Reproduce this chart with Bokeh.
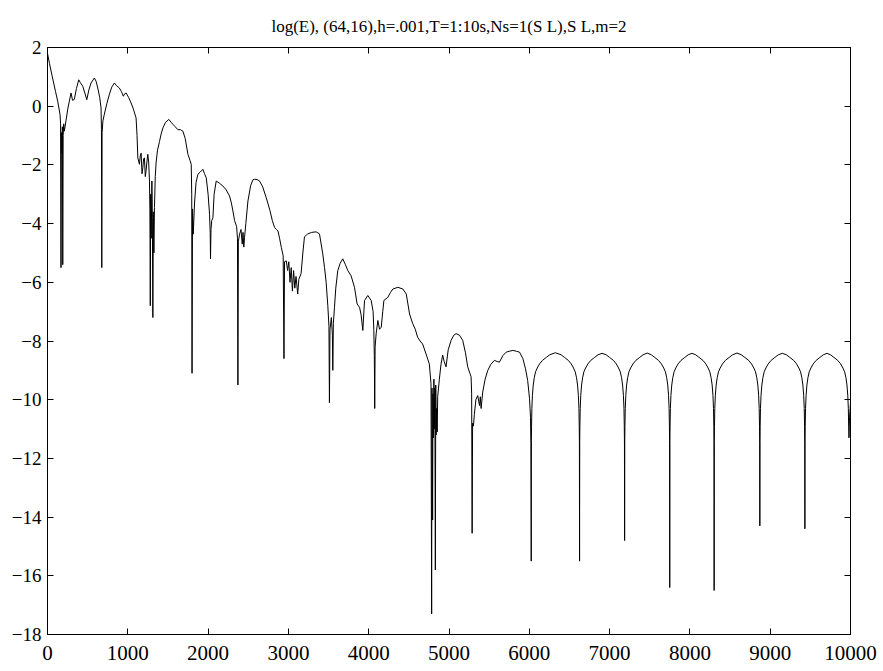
from bokeh.plotting import figure
from bokeh.models import Range1d, FixedTicker, LinearAxis, ColumnDataSource, CustomJSTickFormatter
from bokeh.embed import file_html
from bokeh.resources import INLINE

title_text = "log(E), (64,16),h=.001,T=1:10s,Ns=1(S L),S L,m=2"
x_ticks = [0, 1000, 2000, 3000, 4000, 5000, 6000, 7000, 8000, 9000, 10000]
y_ticks = [-18, -16, -14, -12, -10, -8, -6, -4, -2, 0, 2]

# (step, log(E))
seg_early = [(0, 1.8), (25, 1.45), (60, 1.0), (100, 0.5), (127, 0.17), (156, -0.28), (163, -0.6), (168, -5.5),
             (173, -0.9), (180, -1.6), (185, -0.7), (190, -5.4), (195, -1.0), (202, -0.6), (210, -0.85), (230, -0.5),
             (252, -0.1), (272, 0.17), (293, 0.45), (312, 0.2), (334, 0.23), (360, 0.6), (389, 0.9), (410, 0.8),
             (439, 0.68), (465, 0.45), (489, 0.22), (515, 0.55), (542, 0.79), (584, 0.96), (605, 0.85), (626, 0.62),
             (650, 0.3), (667, -0.06), (672, -0.8), (676, -5.5), (680, -0.9), (690, -0.5), (708, -0.27), (740, 0.1),
             (771, 0.41), (800, 0.65), (833, 0.79), (860, 0.7), (895, 0.62), (920, 0.5), (945, 0.34), (960, 0.42),
             (979, 0.45), (1010, 0.3), (1041, 0.11), (1070, -0.1), (1103, -0.4), (1115, -1.0), (1125, -1.76),
             (1145, -1.98), (1155, -1.7), (1166, -1.6), (1177, -2.3), (1187, -2.1), (1197, -1.8), (1207, -1.76),
             (1218, -2.4), (1228, -2.2), (1238, -1.9), (1249, -1.64), (1260, -1.9), (1270, -2.55), (1275, -3.5),
             (1280, -6.8), (1285, -3.0), (1292, -4.5), (1300, -2.55), (1306, -3.8), (1312, -7.2), (1318, -3.6),
             (1325, -5.0), (1332, -3.45), (1342, -2.4), (1353, -1.9), (1370, -1.5), (1395, -1.2), (1415, -0.95),
             (1437, -0.74), (1470, -0.55), (1511, -0.45)]

seg_second = [(1540, -0.55), (1562, -0.62), (1590, -0.7), (1624, -0.8), (1655, -0.8), (1686, -0.85), (1715, -1.1),
              (1749, -1.64), (1775, -1.85), (1790, -1.98), (1796, -3.0), (1800, -9.1), (1806, -3.5), (1815, -4.36),
              (1831, -3.3), (1850, -2.6), (1873, -2.32), (1900, -2.25), (1935, -2.15), (1955, -2.3), (1977, -2.44),
              (2000, -3.0), (2018, -3.68), (2026, -4.3), (2030, -5.2), (2036, -4.2), (2045, -3.9), (2060, -3.8),
              (2075, -3.0), (2101, -2.55), (2140, -2.62), (2184, -2.72), (2225, -2.85), (2267, -3.06), (2290, -3.3),
              (2309, -3.57), (2330, -3.9), (2355, -4.1), (2366, -4.5), (2371, -9.5), (2377, -4.6), (2392, -4.36),
              (2410, -4.2), (2425, -4.7), (2435, -4.3), (2445, -4.8), (2454, -4.47), (2470, -4.0), (2496, -3.23),
              (2530, -2.7), (2560, -2.5), (2579, -2.49), (2610, -2.5), (2641, -2.55), (2680, -2.75), (2724, -3.12),
              (2770, -3.55), (2800, -3.9), (2828, -4.13), (2850, -4.2), (2870, -4.25), (2890, -4.5), (2912, -4.81),
              (2935, -5.1), (2945, -8.6), (2952, -5.3), (2974, -5.27), (2990, -5.6)]

seg_third = [(3005, -5.3), (3020, -6.0), (3035, -5.5), (3050, -6.3), (3065, -5.6), (3080, -6.2), (3095, -5.8),
             (3116, -6.4), (3130, -5.9), (3158, -5.7), (3180, -5.0), (3200, -4.45), (3241, -4.35), (3290, -4.3),
             (3345, -4.28), (3387, -4.35), (3428, -5.03), (3450, -5.5), (3470, -6.0), (3491, -6.8), (3505, -7.5),
             (3511, -10.1), (3518, -7.6), (3535, -7.2), (3548, -7.8), (3553, -9.0), (3560, -7.4), (3574, -6.85),
             (3590, -6.2), (3615, -5.6), (3645, -5.35), (3677, -5.2), (3710, -5.4), (3740, -5.6), (3781, -5.78),
             (3823, -6.17), (3856, -6.74), (3886, -6.85), (3905, -7.1), (3927, -7.64), (3948, -6.62), (3989, -6.45),
             (4031, -6.62), (4055, -7.0), (4064, -7.64), (4070, -8.5), (4075, -10.3), (4080, -8.2), (4093, -7.75),
             (4114, -7.3), (4135, -7.6), (4156, -7.53), (4175, -7.0), (4189, -6.62), (4239, -6.51), (4270, -6.35),
             (4301, -6.23), (4363, -6.17), (4426, -6.23), (4468, -6.4), (4509, -7.08), (4547, -7.4), (4580, -7.6),
             (4609, -7.87), (4640, -8.0), (4671, -8.1)]

seg_fourth = [(4714, -8.44), (4755, -8.78), (4776, -9.46), (4784, -17.3), (4788, -9.6), (4792, -11.5), (4796, -14.1),
              (4800, -9.8), (4806, -11.3), (4812, -9.3), (4818, -11.0), (4824, -9.6), (4830, -15.8), (4835, -9.5),
              (4840, -11.2), (4846, -10.3), (4853, -11.1), (4859, -9.9), (4870, -9.6), (4880, -9.3), (4900, -8.8),
              (4921, -8.48), (4940, -8.7), (4963, -8.88), (4990, -8.3), (5026, -7.98), (5060, -7.8), (5088, -7.75),
              (5130, -7.8), (5171, -7.98), (5205, -8.4), (5233, -8.88), (5260, -9.1), (5275, -9.22), (5282, -9.8),
              (5288, -14.55), (5294, -10.8), (5304, -10.9), (5316, -10.5), (5335, -10.0), (5358, -9.86), (5380, -10.2),
              (5390, -9.9), (5400, -10.3), (5420, -9.74), (5450, -9.3), (5483, -9.0), (5520, -8.8), (5566, -8.66),
              (5600, -8.7), (5628, -8.72), (5670, -8.5), (5712, -8.38), (5750, -8.35), (5795, -8.32), (5840, -8.35),
              (5878, -8.38), (5920, -8.6), (5953, -8.95), (5980, -9.35), (6003, -9.97), (6015, -10.6), (6020, -11.5),
              (6024, -15.5)]

arch1_x = [6026, 6028, 6032, 6039, 6049, 6062, 6078, 6099, 6128, 6164, 6211, 6254, 6325,
           6396, 6439, 6486, 6522, 6551, 6572, 6588, 6601, 6611, 6618, 6622, 6624, 6626]
arch1_y = [-11.4, -10.9, -10.3, -9.85, -9.5, -9.25, -9.05, -8.92, -8.78, -8.66, -8.56, -8.47, -8.40,
           -8.47, -8.56, -8.66, -8.78, -8.92, -9.05, -9.25, -9.5, -9.85, -10.3, -10.9, -11.5, -15.5]

arch2_x = [6628, 6630, 6634, 6641, 6651, 6664, 6680, 6701, 6730, 6766, 6813, 6856, 6906,
           6957, 7000, 7047, 7083, 7112, 7133, 7149, 7162, 7172, 7179, 7183, 7185, 7187]
arch2_y = [-11.4, -10.9, -10.3, -9.85, -9.5, -9.25, -9.05, -8.92, -8.78, -8.66, -8.56, -8.47, -8.42,
           -8.47, -8.56, -8.66, -8.78, -8.92, -9.05, -9.25, -9.5, -9.85, -10.3, -10.9, -11.5, -14.8]

arch3_x = [7189, 7191, 7195, 7202, 7212, 7225, 7241, 7262, 7291, 7327, 7374, 7417, 7468,
           7519, 7562, 7609, 7645, 7674, 7695, 7711, 7724, 7734, 7741, 7745, 7747, 7749]
arch3_y = [-11.4, -10.9, -10.3, -9.85, -9.5, -9.25, -9.05, -8.92, -8.78, -8.66, -8.56, -8.47, -8.41,
           -8.47, -8.56, -8.66, -8.78, -8.92, -9.05, -9.25, -9.5, -9.85, -10.3, -10.9, -11.5, -16.4]

arch4_x = [7751, 7753, 7757, 7764, 7774, 7787, 7803, 7824, 7853, 7889, 7936, 7979, 8025,
           8072, 8115, 8162, 8198, 8227, 8248, 8264, 8277, 8287, 8294, 8298, 8300, 8302]
arch4_y = [-11.4, -10.9, -10.3, -9.85, -9.5, -9.25, -9.05, -8.92, -8.78, -8.66, -8.56, -8.47, -8.42,
           -8.47, -8.56, -8.66, -8.78, -8.92, -9.05, -9.25, -9.5, -9.85, -10.3, -10.9, -11.5, -16.5]

arch5_x = [8304, 8306, 8310, 8317, 8327, 8340, 8356, 8377, 8406, 8442, 8489, 8532, 8586,
           8641, 8684, 8731, 8767, 8796, 8817, 8833, 8846, 8856, 8863, 8867, 8869, 8871]
arch5_y = [-11.4, -10.9, -10.3, -9.85, -9.5, -9.25, -9.05, -8.92, -8.78, -8.66, -8.56, -8.47, -8.41,
           -8.47, -8.56, -8.66, -8.78, -8.92, -9.05, -9.25, -9.5, -9.85, -10.3, -10.9, -11.5, -14.3]

arch6_x = [8873, 8875, 8879, 8886, 8896, 8909, 8925, 8946, 8975, 9011, 9058, 9101, 9151,
           9202, 9245, 9292, 9328, 9357, 9378, 9394, 9407, 9417, 9424, 9428, 9430, 9432]
arch6_y = [-11.4, -10.9, -10.3, -9.85, -9.5, -9.25, -9.05, -8.92, -8.78, -8.66, -8.56, -8.47, -8.42,
           -8.47, -8.56, -8.66, -8.78, -8.92, -9.05, -9.25, -9.5, -9.85, -10.3, -10.9, -11.5, -14.4]

arch7_x = [9434, 9436, 9440, 9447, 9457, 9470, 9486, 9507, 9536, 9572, 9619, 9662, 9706,
           9751, 9794, 9841, 9877, 9906, 9927, 9943, 9956, 9966, 9973, 9977, 9981, 9988, 10000]
arch7_y = [-11.4, -10.9, -10.3, -9.85, -9.5, -9.25, -9.05, -8.92, -8.78, -8.66, -8.56, -8.47, -8.42,
           -8.47, -8.56, -8.66, -8.78, -8.92, -9.05, -9.25, -9.5, -9.85, -10.3, -10.9, -11.3, -10.6, -10.1]

xs, ys = [], []
for seg in (seg_early, seg_second, seg_third, seg_fourth):
    for a, b in seg:
        xs.append(a)
        ys.append(b)
for ax_, ay_ in ((arch1_x, arch1_y), (arch2_x, arch2_y), (arch3_x, arch3_y), (arch4_x, arch4_y),
                 (arch5_x, arch5_y), (arch6_x, arch6_y), (arch7_x, arch7_y)):
    xs.extend(ax_)
    ys.extend(ay_)

src = ColumnDataSource(data=dict(step=xs, logE=ys))

FONT = "Liberation Serif"
p = figure(width=883, height=671, output_backend="svg", toolbar_location=None,
           x_range=Range1d(0, 10000), y_range=Range1d(-18, 2),
           min_border_left=47, min_border_right=33, min_border_top=47, min_border_bottom=37)
p.background_fill_color = "white"
p.border_fill_color = "white"
p.outline_line_color = "black"
p.outline_line_width = 1
p.xgrid.visible = False
p.ygrid.visible = False

p.title.text = title_text
p.title.text_font = FONT
p.title.text_font_size = "17px"
p.title.text_font_style = "normal"
p.title.align = "center"
p.title.text_color = "black"
p.title.standoff = 24

for ax in (p.xaxis[0], p.yaxis[0]):
    ax.major_tick_in = 6
    ax.major_tick_out = 0
    ax.minor_tick_line_color = None
    ax.axis_line_color = "black"
    ax.major_tick_line_color = "black"
    ax.major_label_text_font = FONT
    ax.major_label_text_color = "black"
p.xaxis[0].ticker = FixedTicker(ticks=x_ticks)
p.yaxis[0].ticker = FixedTicker(ticks=y_ticks)
p.xaxis[0].major_label_text_font_size = "21px"
p.yaxis[0].major_label_text_font_size = "19px"
p.xaxis[0].major_label_standoff = 11
p.yaxis[0].major_label_standoff = 6

blank = CustomJSTickFormatter(code="return '';")
top_ax = LinearAxis(ticker=FixedTicker(ticks=x_ticks), formatter=blank,
                    major_tick_in=6, major_tick_out=0, minor_tick_line_color=None,
                    major_label_standoff=0, axis_line_color="black")
right_ax = LinearAxis(ticker=FixedTicker(ticks=y_ticks), formatter=blank,
                      major_tick_in=6, major_tick_out=0, minor_tick_line_color=None,
                      major_label_standoff=0, axis_line_color="black")
p.add_layout(top_ax, "above")
p.add_layout(right_ax, "right")

p.line("step", "logE", source=src, line_color="black", line_width=1)

open("out.html", "w").write(file_html(p, INLINE))
